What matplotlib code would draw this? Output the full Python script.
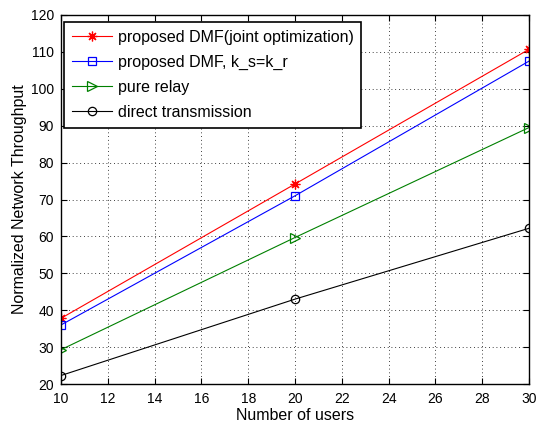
import matplotlib
matplotlib.use('Agg')
import matplotlib.pyplot as plt

plt.rcParams['font.family'] = ['Liberation Sans', 'DejaVu Sans']

users = [10, 20, 30]
dmf_joint = [37.8, 74.2, 110.7]
dmf_equal = [36.0, 71.0, 107.5]
pure_relay = [29.3, 59.7, 89.5]
direct_tx = [22.3, 43.0, 62.2]

fig = plt.figure(figsize=(5.37, 4.26), dpi=100)
ax = fig.add_axes([61 / 537, 1 - 384 / 426, 468 / 537, 369 / 426])

lw = 0.8
ax.plot(users, dmf_joint, color='#ff0000', marker=(8, 2, 0), markersize=7, markeredgewidth=0.9,
        linewidth=lw, label='proposed DMF(joint optimization)')
ax.plot(users, dmf_equal, color='#0000ff', marker='s', markersize=5.5, markerfacecolor='none',
        markeredgewidth=0.9, linewidth=lw, label='proposed DMF, k_s=k_r')
ax.plot(users, pure_relay, color='#008000', marker='>', markersize=6.5, markerfacecolor='none',
        markeredgewidth=0.9, linewidth=lw, label='pure relay')
ax.plot(users, direct_tx, color='black', marker='o', markersize=6, markerfacecolor='none',
        markeredgewidth=0.9, linewidth=lw, label='direct transmission')

ax.set_xlim(10, 30)
ax.set_ylim(20, 120)
ax.set_xticks(range(10, 31, 2))
ax.set_yticks(range(20, 121, 10))
ax.grid(True, linestyle=(0, (1, 3.5)), color='black', linewidth=0.6)
ax.tick_params(direction='in', labelsize=10, length=4, top=True, right=True)
ax.tick_params(axis='x', pad=6)
ax.tick_params(axis='y', pad=5)
for sp in ax.spines.values():
    sp.set_linewidth(1.0)

ax.set_xlabel('Number of users', fontsize=11.5, labelpad=1)
ax.set_ylabel('Normalized Network Throughput', fontsize=11.5, labelpad=3)

leg = ax.legend(loc='upper left', bbox_to_anchor=(3 / 468, 1 - 7 / 369), borderaxespad=0,
                fontsize=11.5, fancybox=False, framealpha=1, edgecolor='black',
                handlelength=2.5, handletextpad=0.35, labelspacing=0.62, borderpad=0.5)
leg.get_frame().set_linewidth(1.2)

fig.savefig('out.png', dpi=100)
